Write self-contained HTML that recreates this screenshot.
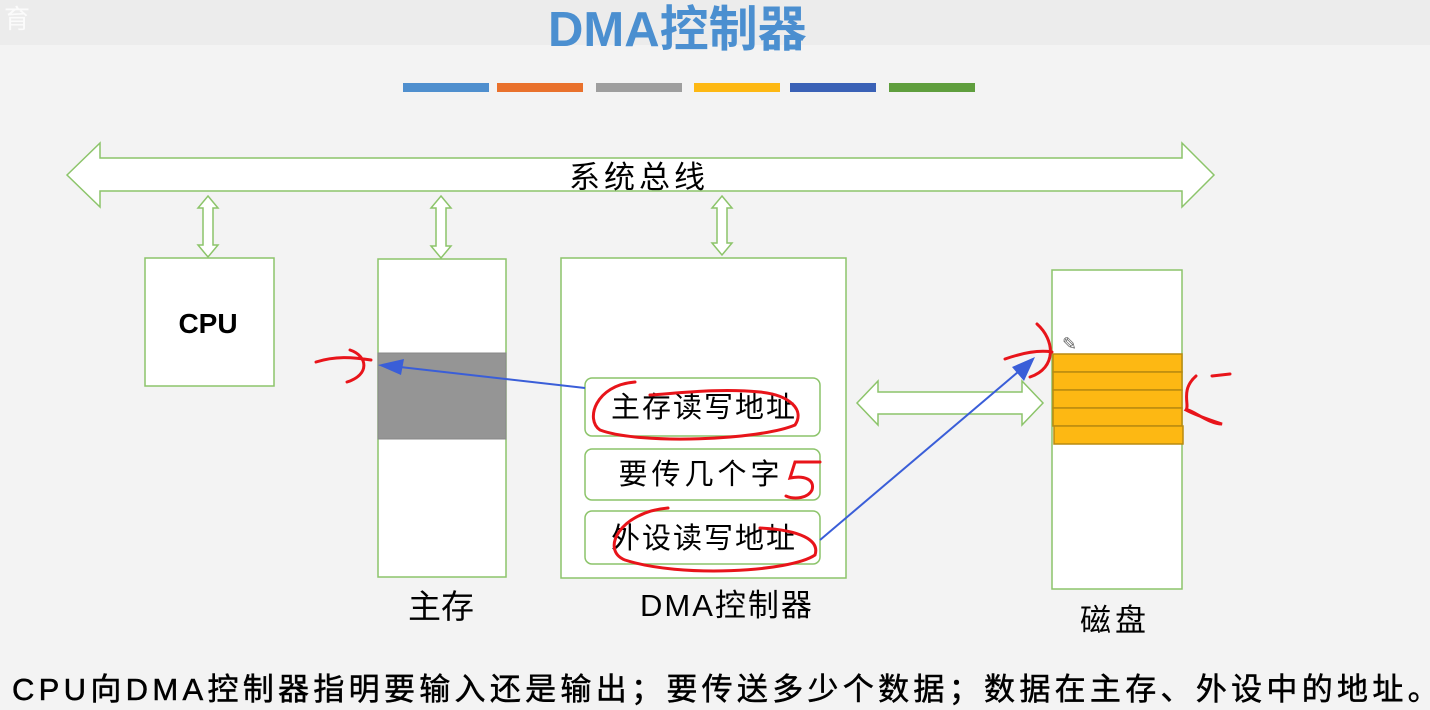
<!DOCTYPE html>
<html><head><meta charset="utf-8"><style>
body{margin:0;width:1430px;height:709px;background:#f3f3f3;overflow:hidden;font-family:"Liberation Sans","Noto Sans CJK SC",sans-serif;}
</style></head><body>
<svg width="1430" height="709" xmlns="http://www.w3.org/2000/svg" style="position:absolute;left:0;top:0">
<rect x="0" y="0" width="1430" height="45" fill="#ececec"/>
<text x="4" y="28" font-size="26" fill="#fff" font-family="Noto Sans CJK SC" opacity="0.8">育</text>
<text x="548" y="46" font-size="49" font-weight="bold" fill="#4b8fd0" font-family="Liberation Sans, Noto Sans CJK SC, sans-serif">DMA控制器</text>
<rect x="403" y="83" width="86" height="9" fill="#4f8fce"/>
<rect x="497" y="83" width="86" height="9" fill="#e9712c"/>
<rect x="596" y="83" width="86" height="9" fill="#9e9e9e"/>
<rect x="694" y="83" width="86" height="9" fill="#fdb813"/>
<rect x="790" y="83" width="86" height="9" fill="#3a61b6"/>
<rect x="889" y="83" width="86" height="9" fill="#5f9e3d"/>
<polygon points="67,175 100,143 100,158 1182,158 1182,143 1214,175 1182,207 1182,191 100,191 100,207" fill="#fff" stroke="#8cc46a" stroke-width="1.5"/>
<text x="639" y="188" font-size="31" letter-spacing="4" text-anchor="middle" font-family="Noto Sans CJK SC">系统总线</text>
<g fill="#fff" stroke="#8cc46a" stroke-width="1.5">
<polygon points="208,196 218,208 213,208 213,245 218,245 208,257 198,245 203,245 203,208 198,208"/>
<polygon points="441,196 451,208 446,208 446,246 451,246 441,258 431,246 436,246 436,208 431,208"/>
<polygon points="722,196 732,208 727,208 727,243 732,243 722,255 712,243 717,243 717,208 712,208"/>
<polygon points="857,403 878,381 878,392 1022,392 1022,381 1043,403 1022,425 1022,414 878,414 878,425"/>
</g>
<g stroke="#8cc46a" stroke-width="1.5" fill="#fff">
<rect x="145" y="258" width="129" height="128"/>
<rect x="378" y="259" width="128" height="318"/>
<rect x="561" y="258" width="285" height="320"/>
<rect x="1052" y="270" width="130" height="319"/>
<rect x="585" y="378" width="235" height="58" rx="7"/>
<rect x="585" y="449" width="235" height="51" rx="7"/>
<rect x="585" y="511" width="235" height="53" rx="7"/>
</g>
<rect x="378" y="353" width="128" height="86" fill="#959595" stroke="#888"/>
<g fill="#fdb813" stroke="#b98a10" stroke-width="1.5">
<rect x="1053" y="354" width="129" height="18"/><rect x="1053" y="372" width="129" height="18"/>
<rect x="1053" y="390" width="129" height="18"/><rect x="1053" y="408" width="129" height="18"/>
<rect x="1054" y="426" width="129" height="18"/>
</g>
<text x="208" y="333" font-size="28" font-weight="bold" text-anchor="middle">CPU</text>
<g font-size="29" font-family="Noto Sans CJK SC" text-anchor="middle">
<text x="704" y="417" letter-spacing="2">主存读写地址</text>
<text x="701" y="484" letter-spacing="4">要传几个字</text>
<text x="704" y="548" letter-spacing="2">外设读写地址</text>
<text x="441" y="618" font-size="33">主存</text>
<text x="727" y="616" font-size="31" letter-spacing="2" font-family="Liberation Sans, Noto Sans CJK SC, sans-serif">DMA控制器</text>
<text x="1115" y="631" font-size="31" letter-spacing="4">磁盘</text>
</g>
<g fill="#3a5ed8" stroke="#3a5ed8">
<line x1="585" y1="388" x2="400" y2="367" stroke-width="2"/>
<polygon points="378,365 404,359 401,375" stroke="none"/>
<line x1="820" y1="540" x2="1018" y2="372" stroke-width="2"/>
<polygon points="1035,357 1024,381 1012,367" stroke="none"/>
</g>
<g fill="none" stroke="#e8141a" stroke-width="3" stroke-linecap="round">
<path d="M316,362 C335,356 352,357 371,360 M350,350 C368,356 370,375 347,382"/>
<path d="M635,382 C595,385 585,420 600,430 C640,445 760,440 795,425 C805,410 790,395 760,392 C720,388 680,393 650,395"/>
<path d="M820,462 L795,462 L790,478 C805,475 815,480 812,490 C808,498 795,500 786,496"/>
<path d="M668,508 C620,512 600,550 625,560 C680,578 790,572 815,555 C820,540 800,530 760,528"/>
<path d="M1005,359 C1025,352 1040,350 1052,352 M1037,324 C1055,340 1057,368 1030,377"/>
<path d="M1196,376 C1180,390 1190,405 1186,410 C1195,415 1210,420 1222,424 C1210,424 1195,412 1188,410 M1212,376 L1230,374"/>
</g>
<text x="1062" y="350" font-size="18" fill="#666">✎</text>
</svg>
<div style="position:absolute;left:12px;top:670px;font-size:31px;line-height:40px;letter-spacing:4.3px;white-space:nowrap;-webkit-text-stroke:0.5px #000;font-family:'Liberation Sans','Noto Sans CJK SC',sans-serif;">CPU向DMA控制器指明要输入还是输出；要传送多少个数据；数据在主存、外设中的地址。</div>
</body></html>
